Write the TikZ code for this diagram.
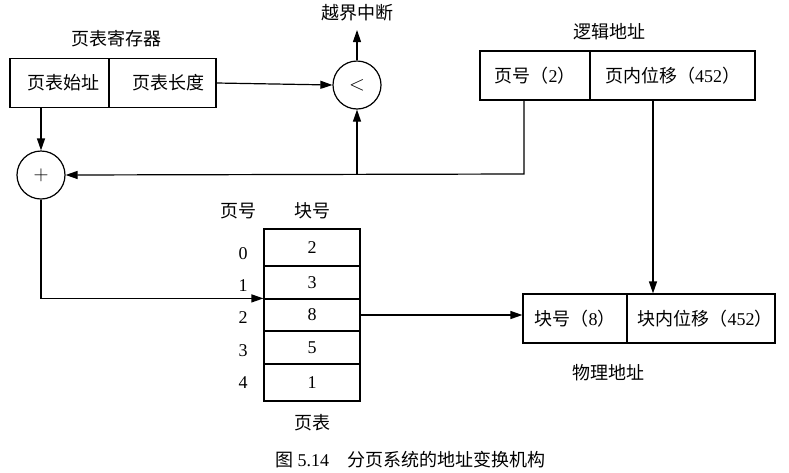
\documentclass[tikz,border=0pt]{standalone}
\usepackage{fontspec}
\setmainfont{Liberation Serif}
\newfontfamily\cjk{Noto Sans CJK SC}
\usetikzlibrary{arrows.meta}
\begin{document}
\begin{tikzpicture}[x=1pt,y=-1pt,
  every node/.style={font=\fontsize{18}{21}\selectfont, inner sep=0pt},
  cell/.style={draw, line width=1.2pt, minimum height=49pt},
  row/.style={draw, line width=1.2pt, minimum width=96pt},
  op/.style={draw, circle, line width=1.2pt, minimum size=48pt, font=\fontsize{20}{22}\selectfont},
  wire/.style={line width=1.2pt},
  arr/.style={wire, -{Triangle[length=12pt,width=8pt]}}]
\useasboundingbox (0,0) rectangle (789,472);

% page table register
\node[cell, minimum width=99pt]  (regA) at (59.5,83) {\hspace{7pt}{\cjk 页表始址}};
\node[cell, minimum width=107pt] (regB) at (162.5,83) {\hspace{11pt}{\cjk 页表长度}};
\node (regT) at (116,39) {\cjk 页表寄存器};

% comparator and adder
\node[op] (lt)   at (357,85) {$<$};
\node[op] (plus) at (41,175) {$+$};
\coordinate (ovf) at (357,30);
\node (ovfT) at (357,13) {\cjk 越界中断};

% logical address
\node[cell, minimum width=110pt] (la) at (535,75.5) {{\cjk 页号（}2{\cjk ）}};
\node[cell, minimum width=165pt] (lb) at (672.5,75.5) {{\cjk 页内位移（}452{\cjk ）}};
\node (laT) at (609,32) {\cjk 逻辑地址};

% physical address
\node[cell, minimum width=104pt] (pa) at (575,318.5) {{\cjk 块号（}8{\cjk ）}};
\node[cell, minimum width=148pt] (pb) at (701,318.5) {\hspace{8pt}{\cjk 块内位移（}452{\cjk ）}};
\node (paT) at (608,373) {\cjk 物理地址};

% page table
\node[row, minimum height=37pt] (t0) at (312,247.5) {2};
\node[row, minimum height=33pt] (t1) at (312,282.5) {3};
\node[row, minimum height=32pt] (t2) at (312,315) {8};
\node[row, minimum height=33pt] (t3) at (312,347.5) {5};
\node[row, minimum height=37pt] (t4) at (312,382.5) {1};
\node (hP) at (238,211) {\cjk 页号};
\node (hB) at (312,211) {\cjk 块号};
\node (n0) at (243,254) {0};
\node (n1) at (243,286) {1};
\node (n2) at (243,318) {2};
\node (n3) at (243,351) {3};
\node (n4) at (243,383) {4};
\node (tT) at (312,423) {\cjk 页表};

% caption
\node (cap) at (410,460) {{\cjk 图} 5.14\quad{\cjk 分页系统的地址变换机构}};

% connectors
\coordinate (turn) at (524,174);
\coordinate (offx) at (653,0);
\draw[arr] (regB.east) -- (lt.west);
\draw[arr] (lt.north) -- (ovf);
\draw[arr] (regA.south -| plus.north) -- (plus.north);
\draw[arr] (la.south -| turn) -- (turn) -- (plus.east);
\draw[arr] (lt.south |- turn) -- (lt.south);
\draw[arr] (lb.south -| offx) -- (pb.north -| offx);
\draw[arr] (plus.south) |- (t2.north west);
\draw[arr] (t2.east) -- (t2.east -| pa.west);
\end{tikzpicture}
\end{document}
